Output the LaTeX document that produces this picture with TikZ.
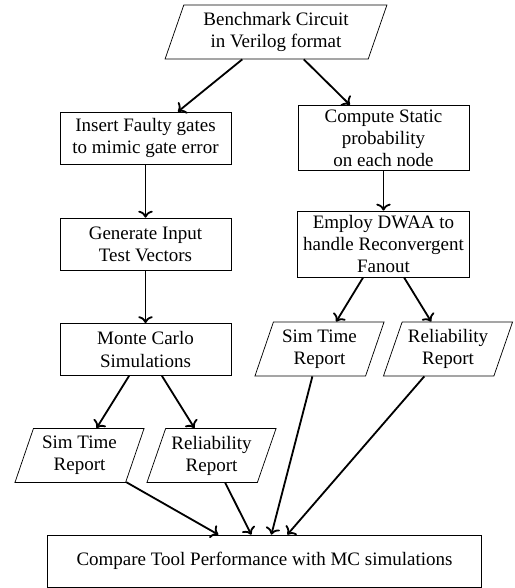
\documentclass[tikz,border=0pt]{standalone}
\usepackage{fontspec}
\setmainfont{Liberation Serif}
\usepackage{tikz}
\usetikzlibrary{arrows.meta,positioning,shapes.geometric}

\begin{document}
\begin{tikzpicture}[
  x=0.55pt,y=-0.55pt,
  font=\fontsize{10.45}{12.1}\selectfont,
  box/.style={draw,thin,minimum width=94pt,minimum height=28.6pt,inner ysep=2.4pt,align=center},
  io/.style={draw,thin,trapezium,trapezium left angle=70,trapezium right angle=110,trapezium stretches body,minimum width=71pt,minimum height=29.7pt,inner xsep=1pt,align=center},
  arr/.style={->,line width=1pt}
]
\useasboundingbox (0,0) rectangle (514,588);
\node[io,minimum width=122pt] (bench) at (276,32) {Benchmark Circuit\\in Verilog format};
\node[box] (insert) at (145.5,138) {Insert Faulty gates\\to mimic gate error};
\node[box] (static) at (383.5,138) {Compute Static\\probability\\on each node};
\node[box] (vectors) at (145.5,244) {Generate Input\\Test Vectors};
\node[box] (dwaa) at (383.5,244) {Employ DWAA to\\handle Reconvergent\\Fanout};
\node[box] (monte) at (145.5,349.5) {Monte Carlo\\Simulations};
\node[io] (simR) at (319.5,349) {Sim Time\\Report};
\node[io] (relR) at (448,349) {Reliability\\Report};
\node[io] (simL) at (79.5,455.5) {Sim Time\\Report};
\node[io] (relL) at (211.5,455.5) {Reliability\\Report};
\node[box,minimum width=239pt] (compare) at (264.5,561) {Compare Tool Performance with MC simulations};
\draw[arr] (bench) -- (insert);
\draw[arr] (bench) -- (static);
\draw[arr] (insert) -- (vectors);
\draw[arr] (vectors) -- (monte);
\draw[arr] (static) -- (dwaa);
\draw[arr] (dwaa) -- (simR);
\draw[arr] (dwaa) -- (relR);
\draw[arr] (monte) -- (simL);
\draw[arr] (monte) -- (relL);
\draw[arr] (simL) -- (compare);
\draw[arr] (relL) -- (compare);
\draw[arr] (simR) -- (compare);
\draw[arr] (relR) -- (compare);
\end{tikzpicture}
\end{document}
